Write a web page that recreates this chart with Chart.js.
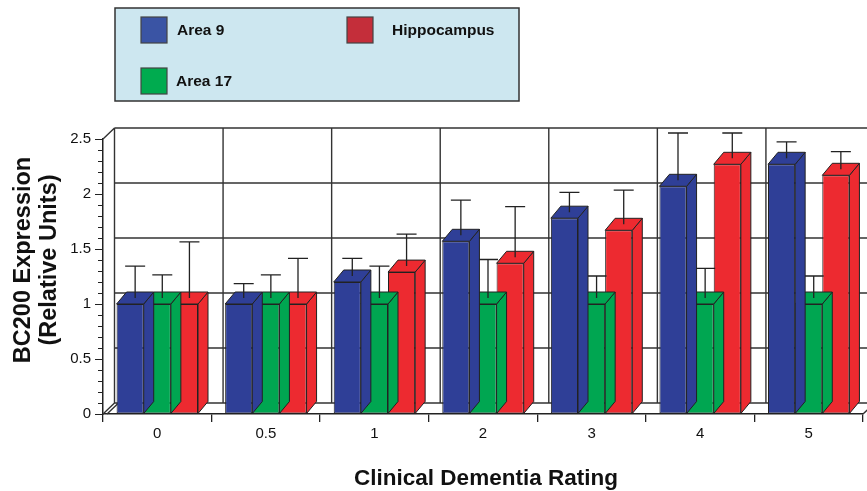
<!DOCTYPE html>
<html>
<head>
<meta charset="utf-8">
<script src="https://cdn.jsdelivr.net/npm/chart.js@4.4.0/dist/chart.umd.min.js"></script>
<style>
  html, body { margin: 0; padding: 0; background: #fff; }
  #wrap { width: 867px; height: 491px; }
</style>
</head>
<body>
<div id="wrap"><canvas id="myChart" width="867" height="491"></canvas></div>
<script>
// dati
var categories = ["0", "0.5", "1", "2", "3", "4", "5"];
var area9 = [1.0, 1.0, 1.2, 1.57, 1.78, 2.07, 2.27];
var area17 = [1.0, 1.0, 1.0, 1.0, 1.0, 1.0, 1.0];
var hippocampus = [1.0, 1.0, 1.29, 1.37, 1.67, 2.27, 2.17];
var area9Err = [0.29, 0.13, 0.16, 0.32, 0.18, 0.43, 0.15];
var area17Err = [0.21, 0.21, 0.29, 0.35, 0.2, 0.27, 0.2];
var hippocampusErr = [0.51, 0.36, 0.29, 0.46, 0.31, 0.23, 0.16];
var yTicks = [0, 0.5, 1, 1.5, 2, 2.5];

var barColors = ["#2f3f97", "#00a651", "#ed2a30"];
var legendColors = ["#3a54a4", "#00ab4f", "#c42e3a"];
var errors = [area9Err, area17Err, hippocampusErr];

var FONT = "'Liberation Sans', Arial, sans-serif";
var DX = 10, DY = -12;     // profondita barre
var WDX = 11.5, WDY = -11; // profondita parete di fondo

// parete di fondo, pavimento e raccordi 3D
var wallPlugin = {
  id: "wall",
  beforeDatasetsDraw: function (chart) {
    var ctx = chart.ctx;
    var xs = chart.scales.x, ys = chart.scales.y;
    var area = chart.chartArea;
    var half = (xs.getPixelForValue(1) - xs.getPixelForValue(0)) / 2;
    var yTop = ys.getPixelForValue(2.5), yBot = ys.getPixelForValue(0);
    ctx.save();
    ctx.strokeStyle = "#333";
    ctx.lineWidth = 1.4;
    ctx.beginPath();
    yTicks.forEach(function (v) {
      var y = ys.getPixelForValue(v) + WDY;
      ctx.moveTo(area.left + WDX, y);
      ctx.lineTo(chart.width, y);
    });
    for (var i = 0; i <= categories.length; i++) {
      var x = xs.getPixelForValue(0) - half + i * half * 2 + WDX;
      if (i == 0) x = area.left + WDX;
      ctx.moveTo(x, yTop + WDY);
      ctx.lineTo(x, yBot + WDY);
    }
    // raccordi obliqui
    ctx.moveTo(area.left, yTop);
    ctx.lineTo(area.left + WDX, yTop + WDY);
    ctx.moveTo(area.left, yBot);
    ctx.lineTo(area.left + WDX, yBot + WDY);
    ctx.moveTo(area.left + 4, yBot);
    ctx.lineTo(area.left + 4 + WDX, yBot + WDY);
    ctx.moveTo(area.right, yBot);
    ctx.lineTo(area.right + WDX, yBot + WDY);
    ctx.stroke();
    ctx.restore();
  },
};

// facce laterali e superiori + barre di errore
var bars3dPlugin = {
  id: "bars3d",
  afterDatasetDraw: function (chart, args) {
    var ctx = chart.ctx;
    var ys = chart.scales.y;
    var meta = args.meta;
    var color = barColors[args.index];
    var err = errors[args.index];
    var values = chart.data.datasets[args.index].data;
    ctx.save();
    ctx.strokeStyle = "#222";
    ctx.lineWidth = 1;
    ctx.lineJoin = "round";
    meta.data.forEach(function (bar, i) {
      var p = bar.getProps(["x", "y", "base", "width"], true);
      var l = p.x - p.width / 2, r = p.x + p.width / 2;
      ctx.fillStyle = color;
      // lato
      ctx.beginPath();
      ctx.moveTo(r, p.y);
      ctx.lineTo(r + DX, p.y + DY);
      ctx.lineTo(r + DX, p.base + DY);
      ctx.lineTo(r, p.base);
      ctx.closePath();
      ctx.fill();
      ctx.stroke();
      // sopra
      ctx.beginPath();
      ctx.moveTo(l, p.y);
      ctx.lineTo(l + DX, p.y + DY);
      ctx.lineTo(r + DX, p.y + DY);
      ctx.lineTo(r, p.y);
      ctx.closePath();
      ctx.fill();
      ctx.stroke();
      // errore
      var ex = p.x + DX / 2;
      var eTop = ys.getPixelForValue(values[i] + err[i]) + DY / 2;
      ctx.lineWidth = 1.3;
      ctx.beginPath();
      ctx.moveTo(ex, p.y + DY / 2);
      ctx.lineTo(ex, eTop);
      ctx.moveTo(ex - 10, eTop);
      ctx.lineTo(ex + 10, eTop);
      ctx.stroke();
      ctx.lineWidth = 1;
    });
    ctx.restore();
  },
};

// tacche minori, titoli assi, legenda
var extrasPlugin = {
  id: "extras",
  afterDraw: function (chart) {
    var ctx = chart.ctx;
    var ys = chart.scales.y;
    var area = chart.chartArea;
    ctx.save();
    ctx.strokeStyle = "#222";
    ctx.lineWidth = 1;
    ctx.beginPath();
    for (var k = 1; k < 25; k++) {
      if (k % 5 == 0) continue;
      var y = Math.round(ys.getPixelForValue(k / 10)) + 0.5;
      ctx.moveTo(area.left - 5, y);
      ctx.lineTo(area.left, y);
    }
    ctx.stroke();

    // titoli
    ctx.fillStyle = "#111";
    ctx.font = "bold 22.5px " + FONT;
    ctx.textAlign = "center";
    ctx.textBaseline = "alphabetic";
    ctx.fillText("Clinical Dementia Rating", 486, 485);

    ctx.save();
    ctx.translate(0, 260);
    ctx.rotate(-Math.PI / 2);
    ctx.font = "bold 23.5px " + FONT;
    ctx.fillText("BC200 Expression", 0, 30);
    ctx.fillText("(Relative Units)", 0, 56);
    ctx.restore();

    // legenda
    ctx.fillStyle = "#cde7f0";
    ctx.fillRect(115, 8, 404, 93);
    ctx.strokeStyle = "#333";
    ctx.lineWidth = 1.5;
    ctx.strokeRect(115, 8, 404, 93);
    var pos = [
      [141, 17, 177],
      [141, 68, 176],
      [347, 17, 392],
    ];
    ctx.font = "bold 15.5px " + FONT;
    ctx.textAlign = "left";
    ctx.textBaseline = "middle";
    chart.data.datasets.forEach(function (ds, i) {
      var p = pos[i];
      ctx.fillStyle = legendColors[i];
      ctx.fillRect(p[0], p[1], 26, 26);
      ctx.strokeStyle = "#444";
      ctx.lineWidth = 1.2;
      ctx.strokeRect(p[0], p[1], 26, 26);
      ctx.fillStyle = "#111";
      ctx.fillText(ds.label, p[2], p[1] + 14);
    });
    ctx.restore();
  },
};

new Chart("myChart", {
  type: "bar",
  data: {
    labels: categories,
    datasets: [
      { label: "Area 9", data: area9, backgroundColor: barColors[0] },
      { label: "Area 17", data: area17, backgroundColor: barColors[1] },
      { label: "Hippocampus", data: hippocampus, backgroundColor: barColors[2] },
    ],
  },
  options: {
    responsive: false,
    animation: false,
    devicePixelRatio: 1,
    layout: { padding: { top: 139, right: 4, left: 0, bottom: 0 } },
    datasets: {
      bar: {
        categoryPercentage: 0.75,
        barPercentage: 1.0,
        borderWidth: 1,
        borderColor: "#222",
        borderSkipped: false,
        clip: false,
      },
    },
    plugins: {
      legend: { display: false },
      title: { display: false },
      tooltip: { enabled: false },
    },
    scales: {
      x: {
        offset: true,
        grid: {
          offset: true,
          drawOnChartArea: false,
          drawTicks: true,
          tickLength: 8,
          color: "#222",
          lineWidth: 1.3,
        },
        border: { display: true, color: "#222", width: 1.5 },
        ticks: { color: "#111", font: { family: FONT, size: 15 }, padding: 3 },
        afterFit: function (scale) {
          scale.height = 77;
        },
      },
      y: {
        min: 0,
        max: 2.5,
        ticks: {
          stepSize: 0.5,
          color: "#111",
          font: { family: FONT, size: 15 },
          padding: 4,
          callback: function (value) {
            return String(value);
          },
        },
        grid: {
          drawOnChartArea: false,
          drawTicks: true,
          tickLength: 8,
          color: "#222",
          lineWidth: 1,
        },
        border: { display: true, color: "#222", width: 1.5 },
        afterFit: function (scale) {
          scale.width = 103;
        },
      },
    },
  },
  plugins: [wallPlugin, bars3dPlugin, extrasPlugin],
});
</script>
</body>
</html>
